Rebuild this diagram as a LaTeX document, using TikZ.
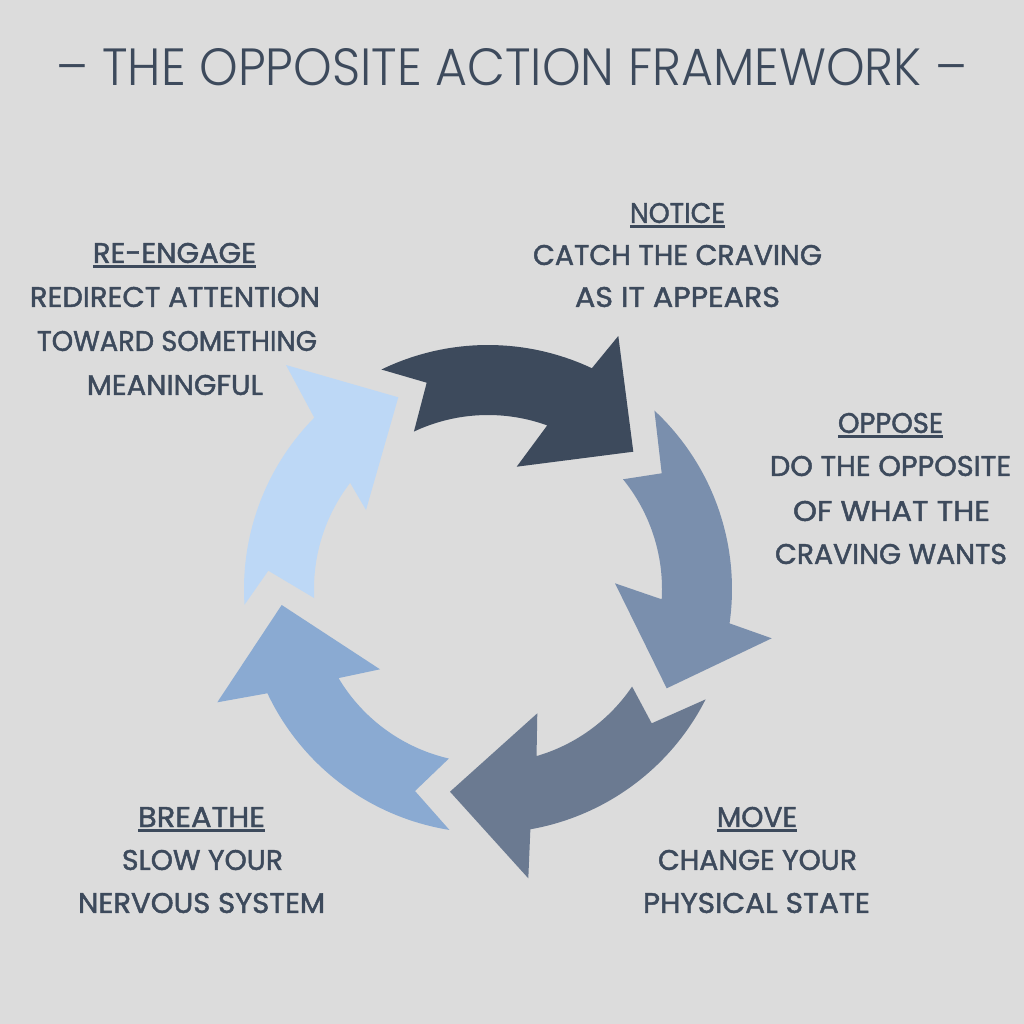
\documentclass[tikz,border=0pt]{standalone}
\usepackage{fontspec}
\newfontfamily\titlefont{Poppins Light}
\newfontfamily\lblfont{Poppins}[FakeBold=1.6]
\definecolor{bg}{HTML}{DCDCDC}
\definecolor{ink}{HTML}{3D4A5C}
\definecolor{cnotice}{HTML}{3D4A5C}
\definecolor{coppose}{HTML}{7A8FAD}
\definecolor{cmove}{HTML}{6B7A91}
\definecolor{cbreathe}{HTML}{8AAAD2}
\definecolor{creengage}{HTML}{BDD8F6}
\newcommand{\lbl}[2]{\resizebox{#1pt}{20pt}{\lblfont #2}}
\tikzset{
  lab/.style={inner sep=0pt, outer sep=0pt, text=ink, anchor=center},
  uline/.style={draw=ink, line width=2.8pt},
  arrowshape/.style={draw=none}
}
\newcommand{\cx}{488}
\newcommand{\cy}{589}
\newcommand{\Ro}{244}
\newcommand{\Ri}{174}
\begin{document}
\begin{tikzpicture}[x=1pt,y=-1pt]
\fill[bg] (0,0) rectangle (1024,1024);
\useasboundingbox (0,0) rectangle (1024,1024);

% title
\node[lab] (title) at (512,67) {\resizebox{910pt}{37pt}{\titlefont – THE OPPOSITE ACTION FRAMEWORK –}};

% arrows
\fill[cnotice,arrowshape]
  plot[domain=-115.9:-64.8, samples=40, variable=\t] ({\cx+\Ro*cos(\t)},{\cy+\Ro*sin(\t)})
  -- (618.3,336) -- (633.3,451.7) -- (516.7,466.7)
  -- plot[domain=-70.1:-115.2, samples=40, variable=\t] ({\cx+\Ri*cos(\t)},{\cy+\Ri*sin(\t)})
  -- (426.7,382.7) -- cycle;
\fill[coppose,arrowshape]
  plot[domain=-47.0:8.1, samples=40, variable=\t] ({\cx+\Ro*cos(\t)},{\cy+\Ro*sin(\t)})
  -- (771.7,638.3) -- (666.7,688.3) -- (615,583.3)
  -- plot[domain=3.4:-39.1, samples=40, variable=\t] ({\cx+\Ri*cos(\t)},{\cy+\Ri*sin(\t)})
  -- (661.7,473.3) -- cycle;
\fill[cmove,arrowshape]
  plot[domain=26.9:80, samples=40, variable=\t] ({\cx+\Ro*cos(\t)},{\cy+\Ro*sin(\t)})
  -- (528.3,878.3) -- (450,791.7) -- (537.3,713.3)
  -- plot[domain=73.8:34.1, samples=40, variable=\t] ({\cx+\Ri*cos(\t)},{\cy+\Ri*sin(\t)})
  -- (651.7,723.3) -- cycle;
\fill[cbreathe,arrowshape]
  plot[domain=99.1:154.7, samples=40, variable=\t] ({\cx+\Ro*cos(\t)},{\cy+\Ro*sin(\t)})
  -- (217.3,702.3) -- (281.7,605) -- (380,669.3)
  -- plot[domain=149.2:103, samples=40, variable=\t] ({\cx+\Ri*cos(\t)},{\cy+\Ri*sin(\t)})
  -- (415,791) -- cycle;
\fill[creengage,arrowshape]
  plot[domain=176.3:224.6, samples=40, variable=\t] ({\cx+\Ro*cos(\t)},{\cy+\Ro*sin(\t)})
  -- (286,365) -- (398.3,397.3) -- (366,510)
  -- plot[domain=217.6:177, samples=40, variable=\t] ({\cx+\Ri*cos(\t)},{\cy+\Ri*sin(\t)})
  -- (268.3,570.7) -- cycle;

% NOTICE
\node[lab] (noticeH) at (677.5,213) {\lbl{95}{NOTICE}};
\node[lab] (noticeA) at (677.5,255) {\lbl{289}{CATCH THE CRAVING}};
\node[lab] (noticeB) at (677.5,297) {\lbl{205}{AS IT APPEARS}};
\draw[uline] ([yshift=-3.5pt]noticeH.south west) -- ([yshift=-3.5pt]noticeH.south east);

% OPPOSE
\node[lab] (opposeH) at (890.5,423) {\lbl{105}{OPPOSE}};
\node[lab] (opposeA) at (890.5,466) {\lbl{241}{DO THE OPPOSITE}};
\node[lab] (opposeB) at (891.5,511) {\lbl{197}{OF WHAT THE}};
\node[lab] (opposeC) at (891,554) {\lbl{232}{CRAVING WANTS}};
\draw[uline] ([yshift=-3.5pt]opposeH.south west) -- ([yshift=-3.5pt]opposeH.south east);

% MOVE
\node[lab] (moveH) at (757,817) {\lbl{80}{MOVE}};
\node[lab] (moveA) at (757.5,860) {\lbl{199}{CHANGE YOUR}};
\node[lab] (moveB) at (756.5,903) {\lbl{227}{PHYSICAL STATE}};
\draw[uline] ([yshift=-3.5pt]moveH.south west) -- ([yshift=-3.5pt]moveH.south east);

% BREATHE
\node[lab] (breatheH) at (201.5,817) {\lbl{127}{BREATHE}};
\node[lab] (breatheA) at (202.5,860) {\lbl{161}{SLOW YOUR}};
\node[lab] (breatheB) at (201.5,903) {\lbl{247}{NERVOUS SYSTEM}};
\draw[uline] ([yshift=-3.5pt]breatheH.south west) -- ([yshift=-3.5pt]breatheH.south east);

% RE-ENGAGE
\node[lab] (reH) at (174.5,253) {\lbl{163}{RE-ENGAGE}};
\node[lab] (reA) at (175,297) {\lbl{290}{REDIRECT ATTENTION}};
\node[lab] (reB) at (177,341) {\lbl{280}{TOWARD SOMETHING}};
\node[lab] (reC) at (175,385) {\lbl{176}{MEANINGFUL}};
\draw[uline] ([yshift=-3.5pt]reH.south west) -- ([yshift=-3.5pt]reH.south east);
\end{tikzpicture}
\end{document}
